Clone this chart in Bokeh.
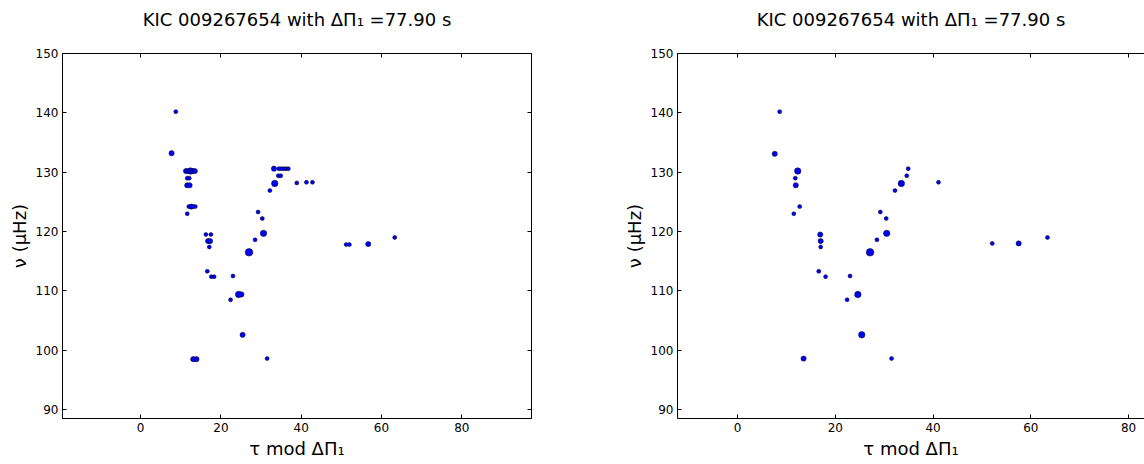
from bokeh.plotting import figure
from bokeh.layouts import row
from bokeh.models import LinearAxis, Range1d, FixedTicker, ColumnDataSource, CustomJSTickFormatter
from bokeh.embed import file_html
from bokeh.resources import INLINE

# ---------------- data ----------------
title_text = "KIC 009267654 with ΔΠ₁ =77.90 s"
x_label = "τ mod ΔΠ₁"
y_label = "ν (μHz)"
delta_pi = 77.90

x_ticks = [0, 20, 40, 60, 80]
y_ticks = [90, 100, 110, 120, 130, 140, 150]

# left panel: all detected peaks (tau mod dPi, frequency, relative power level)
all_tau = [8.75, 7.7,
           11.3, 11.9, 12.4, 13.0, 13.5,
           11.6, 12.1,
           11.6, 12.2,
           12.0, 12.6, 13.1, 13.6,
           11.6,
           16.25, 17.5,
           16.8, 17.3,
           17.1,
           16.6,
           17.6, 18.3,
           23.0,
           24.4, 25.1,
           22.4,
           25.4,
           13.1, 13.9,
           31.5,
           27.0,
           28.5,
           30.6,
           30.3,
           29.25,
           32.2,
           33.4,
           38.9, 41.3, 42.8,
           34.3, 34.9,
           33.2, 34.4, 35.0, 35.6, 36.2, 36.8,
           51.2, 52.0,
           56.7,
           63.3]
all_nu = [140.2, 133.2,
          130.2, 130.2, 130.2, 130.2, 130.2,
          129.0, 129.0,
          127.8, 127.8,
          124.2, 124.2, 124.2, 124.2,
          123.0,
          119.5, 119.5,
          118.4, 118.4,
          117.4,
          113.3,
          112.4, 112.4,
          112.5,
          109.4, 109.4,
          108.5,
          102.6,
          98.5, 98.5,
          98.6,
          116.5,
          118.6,
          119.7,
          122.2,
          123.3,
          126.9,
          128.1,
          128.2, 128.3, 128.3,
          129.4, 129.4,
          130.6, 130.6, 130.6, 130.6, 130.6, 130.6,
          117.8, 117.8,
          117.9,
          119.0]
all_power = [1, 2,
             2, 2, 3, 2, 2,
             1, 1,
             2, 2,
             1, 2, 1, 1,
             1,
             1, 1,
             2, 2,
             1,
             1,
             1, 1,
             1,
             3, 2,
             1,
             2,
             2, 2,
             1,
             4,
             1,
             3,
             1,
             1,
             1,
             3,
             1, 1, 1,
             1, 1,
             2, 1, 1, 1, 1, 1,
             1, 1,
             2,
             1]

# right panel: one selected peak per mode
best_tau = [8.6, 7.6, 12.3, 11.8, 11.9, 12.7, 11.5, 16.9, 17.0, 17.0, 16.6, 18.0,
            23.0, 22.4, 24.6, 25.4, 13.5, 31.5, 27.1, 28.5, 30.5, 29.2, 30.4, 32.2,
            33.5, 34.6, 34.9, 41.1, 52.1, 57.5, 63.4]
best_nu = [140.2, 133.1, 130.2, 129.0, 127.8, 124.2, 123.0, 119.5, 118.4, 117.4, 113.3, 112.4,
           112.5, 108.5, 109.4, 102.6, 98.6, 98.6, 116.5, 118.6, 119.7, 123.3, 122.2, 126.9,
           128.1, 129.4, 130.6, 128.3, 118.0, 118.0, 119.0]
best_power = [1, 2, 3, 1, 2, 1, 1, 2, 2, 1, 1, 1,
              1, 1, 3, 3, 2, 1, 4, 1, 3, 1, 1, 1,
              3, 1, 1, 1, 1, 2, 1]

FONT = "DejaVu Sans"


def marker_sizes(levels):
    return [2.8 + 1.2 * lv for lv in levels]


def style_axis(ax, ticks, show_labels=True):
    ax.ticker = FixedTicker(ticks=ticks)
    ax.major_tick_in = 4
    ax.major_tick_out = 0
    ax.minor_tick_in = 0
    ax.minor_tick_out = 0
    ax.axis_line_color = "black"
    ax.axis_line_width = 1
    ax.major_tick_line_color = "black"
    ax.major_label_text_font = FONT
    ax.major_label_text_color = "black"
    ax.major_label_text_font_size = "12px"
    if show_labels:
        ax.major_label_standoff = 4
    else:
        ax.formatter = CustomJSTickFormatter(code="return ''")
        ax.major_label_standoff = 0


def make_panel(width, border_right, xr, tau, nu, power, right_side):
    p = figure(width=width, height=464,
               x_range=Range1d(*xr), y_range=Range1d(88.5, 150),
               output_backend="svg", toolbar_location=None,
               min_border_left=62, min_border_right=border_right,
               min_border_top=53, min_border_bottom=46,
               title=title_text)
    p.grid.visible = False
    p.background_fill_color = "white"
    p.border_fill_color = "white"
    p.outline_line_color = "black" if right_side else None
    p.outline_line_width = 1

    p.title.text_font = FONT
    p.title.text_font_size = "18px"
    p.title.text_font_style = "normal"
    p.title.text_color = "black"
    p.title.align = "center"
    p.title.standoff = 4

    style_axis(p.xaxis[0], x_ticks)
    style_axis(p.yaxis[0], y_ticks)
    p.xaxis.axis_label = x_label
    p.yaxis.axis_label = y_label
    for ax in (p.xaxis[0], p.yaxis[0]):
        ax.axis_label_text_font = FONT
        ax.axis_label_text_font_size = "18px"
        ax.axis_label_text_font_style = "normal"
        ax.axis_label_text_color = "black"
        ax.axis_label_standoff = 3

    # top spine with inward ticks
    top = LinearAxis()
    style_axis(top, x_ticks, show_labels=False)
    p.add_layout(top, "above")
    # invisible spacer between the spine and the title
    spacer = LinearAxis()
    style_axis(spacer, x_ticks, show_labels=False)
    spacer.major_tick_in = 0
    spacer.major_tick_out = 22
    spacer.major_tick_line_color = None
    spacer.axis_line_color = None
    p.add_layout(spacer, "above")

    if right_side:
        right = LinearAxis()
        style_axis(right, y_ticks, show_labels=False)
        p.add_layout(right, "right")

    src = ColumnDataSource(data=dict(x=tau, y=nu, s=marker_sizes(power)))
    p.scatter("x", "y", size="s", source=src, marker="circle",
              fill_color="#0000ff", line_color="black", line_width=0.5)
    return p


p1 = make_panel(615, 84, (-0.25 * delta_pi, 1.25 * delta_pi),
                all_tau, all_nu, all_power, True)
p2 = make_panel(529, 0, (-12.3, 83.25),
                best_tau, best_nu, best_power, False)

layout = row(p1, p2)
open("out.html", "w").write(file_html(layout, INLINE))
